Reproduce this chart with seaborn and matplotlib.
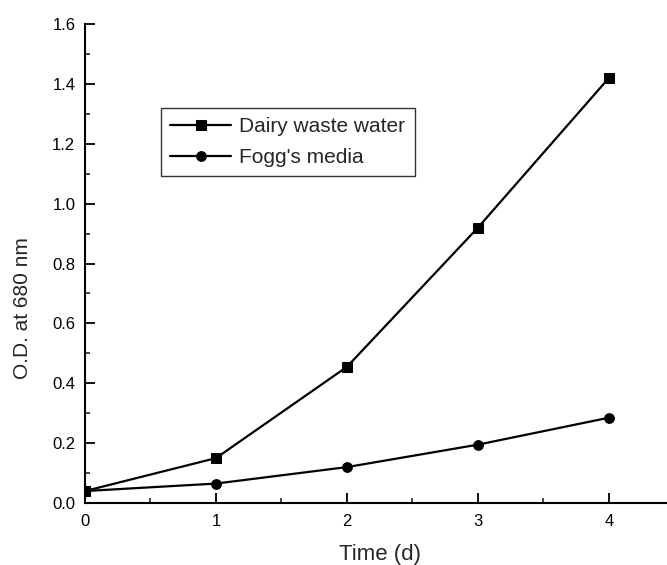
import matplotlib
matplotlib.use("Agg")
import matplotlib.pyplot as plt
from matplotlib.ticker import MultipleLocator
import seaborn as sns
import pandas as pd

days = [0, 1, 2, 3, 4]
dairy_od = [0.04, 0.15, 0.455, 0.92, 1.42]
fogg_od = [0.04, 0.065, 0.12, 0.195, 0.285]
series_names = ["Dairy waste water", "Fogg's media"]

df = pd.DataFrame({
    "Time (d)": days * 2,
    "OD": dairy_od + fogg_od,
    "Medium": [series_names[0]] * len(days) + [series_names[1]] * len(days),
})

sns.set_style("ticks")
plt.rcParams["font.family"] = ["Liberation Sans", "DejaVu Sans"]

fig = plt.figure(figsize=(6.67, 5.65), dpi=100)
# x range 0-4.5; the right end of the axis runs just past the figure edge
ax = fig.add_axes([0.1274, 0.1097, 0.8838, 0.8478])

sns.lineplot(
    data=df, x="Time (d)", y="OD", hue="Medium", style="Medium",
    palette=["black", "black"], markers=["s", "o"], dashes=False,
    markersize=7, linewidth=1.6, markeredgecolor="black", ax=ax,
)

ax.set_xlim(0, 4.5)
ax.set_ylim(0, 1.6)
ax.xaxis.set_major_locator(MultipleLocator(1))
ax.xaxis.set_minor_locator(MultipleLocator(0.5))
ax.yaxis.set_major_locator(MultipleLocator(0.2))
ax.yaxis.set_minor_locator(MultipleLocator(0.1))
ax.tick_params(which="major", direction="in", length=7, width=1.3, labelsize=12, colors="black")
ax.tick_params(which="minor", direction="in", length=3.5, width=1.2)
ax.tick_params(axis="x", which="major", pad=8)
ax.tick_params(axis="y", which="major", pad=7)

for side in ["top", "right"]:
    ax.spines[side].set_visible(False)
for side in ["left", "bottom"]:
    ax.spines[side].set_linewidth(1.5)
    ax.spines[side].set_color("black")

ax.set_xlabel("Time (d)", fontsize=16, labelpad=11)
ax.set_ylabel("O.D. at 680 nm", fontsize=15)
ax.yaxis.set_label_coords(-0.09, 0.407)

handles, labels = ax.get_legend_handles_labels()
leg = ax.legend(
    handles, labels, loc="upper left", bbox_to_anchor=(0.129, 0.8246),
    borderaxespad=0, fontsize=15, frameon=True, fancybox=False, edgecolor="black",
    handlelength=2.9, handletextpad=0.4, borderpad=0.45, labelspacing=0.55,
)
leg.get_frame().set_linewidth(1.0)

fig.savefig("out.png", dpi=100)
